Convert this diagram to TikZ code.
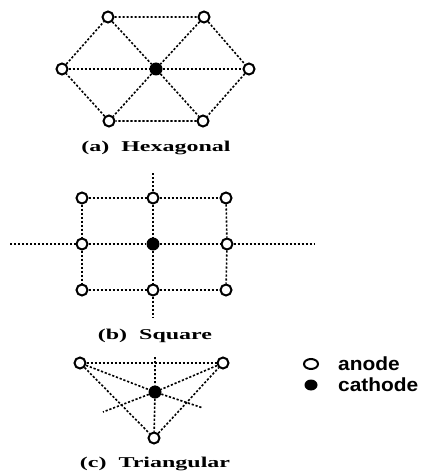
\documentclass[tikz,border=0pt]{standalone}
\usepackage{fontspec}
\usetikzlibrary{shapes.geometric}
\setmainfont{Liberation Serif}
\newfontfamily\legfont{Liberation Sans}
\begin{document}
\begin{tikzpicture}[x=1pt,y=-1pt,
  anode/.style={circle,draw=black,line width=2pt,fill=white,minimum size=11pt,inner sep=0pt},
  cathode/.style={circle,fill=black,minimum size=13pt,inner sep=0pt},
  link/.style={line width=1.6pt,dash pattern=on 2.2pt off 1.8pt},
  caption/.style={font=\fontsize{15}{15}\selectfont\bfseries,inner sep=0pt},
  legtext/.style={font=\legfont\fontsize{19}{19}\selectfont\bfseries,anchor=west,inner sep=0pt}]
\useasboundingbox (0,0) rectangle (425,476);
% ---------- (a) Hexagonal ----------
\node[anode] (hTL) at (108,17) {};
\node[anode] (hTR) at (204,17) {};
\node[anode] (hL)  at (62,69) {};
\node[cathode] (hC) at (156,69) {};
\node[anode] (hR)  at (249,69) {};
\node[anode] (hBL) at (109,121) {};
\node[anode] (hBR) at (203,121) {};
\draw[link] (hTL) -- (hTR) -- (hR) -- (hBR) -- (hBL) -- (hL) -- (hTL);
\draw[link] (hTL) -- (hC) -- (hBR);
\draw[link] (hTR) -- (hC) -- (hBL);
\draw[link] (hL) -- (hC) -- (hR);
\node[caption] (capa) at (156,148) {\scalebox{1.6}[1]{(a)\ \ Hexagonal}};
% ---------- (b) Square ----------
\coordinate (sTop) at (153,173);
\coordinate (sBot) at (153,317);
\coordinate (sLeft) at (10,244);
\coordinate (sRight) at (315,244);
\node[anode] (sTL) at (82,198) {};
\node[anode] (sTC) at (153,198) {};
\node[anode] (sTR) at (226,198) {};
\node[anode] (sML) at (82,244) {};
\node[cathode] (sC) at (153,244) {};
\node[anode] (sMR) at (227,244) {};
\node[anode] (sBL) at (82,290) {};
\node[anode] (sBC) at (153,290) {};
\node[anode] (sBR) at (226,290) {};
\draw[link] (sTL) -- (sTC) -- (sTR);
\draw[link] (sLeft) -- (sML) -- (sC) -- (sMR) -- (sRight);
\draw[link] (sBL) -- (sBC) -- (sBR);
\draw[link] (sTL) -- (sML) -- (sBL);
\draw[link] (sTop) -- (sTC) -- (sC) -- (sBC) -- (sBot);
\draw[link] (sTR) -- (sMR) -- (sBR);
\node[caption] (capb) at (155,336) {\scalebox{1.6}[1]{(b)\ \ Square}};
% ---------- (c) Triangular ----------
\coordinate (tTop) at (155,357);
\coordinate (tEndA) at (203,408);
\coordinate (tEndB) at (103,412);
\node[anode] (tA) at (80,363) {};
\node[anode] (tB) at (223,363) {};
\node[anode] (tD) at (154,438) {};
\node[cathode] (tC) at (155,392) {};
\draw[link] (tA) -- (tB);
\draw[link] (tA) -- (tD) -- (tB);
\draw[link] (tTop) -- (tC) -- (tD);
\draw[link] (tA) -- (tC) -- (tEndA);
\draw[link] (tB) -- (tC) -- (tEndB);
\node[caption] (capc) at (155,464) {\scalebox{1.6}[1]{(c)\ \ Triangular}};
% ---------- legend ----------
\node[ellipse,draw=black,line width=2pt,fill=white,minimum width=14pt,minimum height=10pt,inner sep=0pt] (lA) at (311,364) {};
\node[ellipse,fill=black,minimum width=13pt,minimum height=11pt,inner sep=0pt] (lC) at (311,385) {};
\node[legtext] (lAt) at (338,364) {\scalebox{1.1}[1]{anode}};
\node[legtext] (lCt) at (338,385) {\scalebox{1.1}[1]{cathode}};
\end{tikzpicture}
\end{document}
